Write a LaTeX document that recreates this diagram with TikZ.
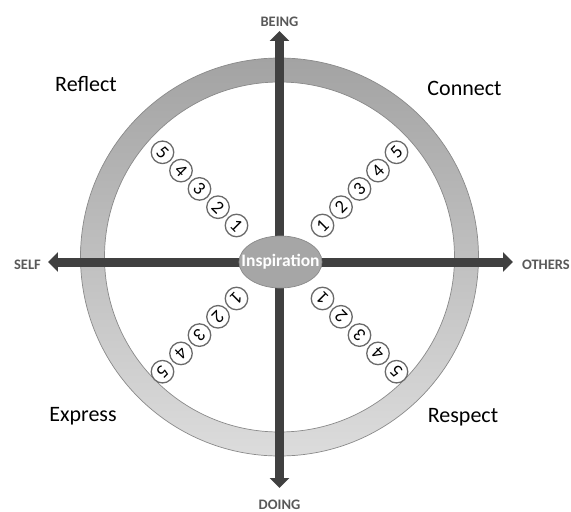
\documentclass[tikz,border=0pt]{standalone}
\usepackage{fontspec}
\setmainfont{Carlito}
\usetikzlibrary{arrows.meta}
\definecolor{axisgray}{HTML}{404040}
\definecolor{labelgray}{HTML}{595959}
\definecolor{numline}{HTML}{6A6A6A}
\definecolor{ringtop}{HTML}{A3A3A3}
\definecolor{ringbot}{HTML}{DCDCDC}
\definecolor{ringline}{HTML}{8A8A8A}
\definecolor{hubfill}{HTML}{A6A6A6}
\tikzset{
  axis/.style={draw=axisgray, line width=9pt, {Triangle[width=19pt,length=10pt]}-{Triangle[width=19pt,length=10pt]}},
  dirlabel/.style={text=labelgray, font=\fontsize{14.5}{15}\selectfont\bfseries},
  quadlabel/.style={anchor=base, font=\fontsize{22}{24}\selectfont},
  num/.style={circle, draw=numline, line width=1.3pt, fill=white, minimum size=22.5pt, inner sep=0pt, font=\fontsize{18.5}{18}\selectfont},
  hub/.style={text=white, inner sep=0pt, font=\fontsize{17.5}{18}\selectfont\bfseries}
}

\begin{document}
\begin{tikzpicture}[x=1pt, y=1pt]
		%%%%% START %%%%%
		\useasboundingbox (-279.5, -250) rectangle (291.5, 262);
		
		\shadedraw[top color=ringtop, bottom color=ringbot, draw=ringline, line width=0.7pt, even odd rule] (0, 5) circle (199pt) (0, 5) circle (175pt);
		
		\coordinate (being) at (0, 231);
		\coordinate (doing) at (0, -226);
		\coordinate (self) at (-231.5, 0);
		\coordinate (others) at (233.5, 0);
		\draw[axis] (doing) -- (being);
		\draw[axis] (self) -- (others);
		
		\draw[fill=hubfill, draw=ringline, line width=0.7pt] (1, 0) ellipse (41.5pt and 26pt);
		\node[hub] (insp) at (1, 0) {Inspiration};
		
		\node[dirlabel] (beinglbl) at (0, 240.5) {BEING};
		\node[dirlabel] (doinglbl) at (0, -243) {DOING};
		\node[dirlabel] (selflbl) at (-252, -3) {SELF};
		\node[dirlabel, anchor=west] (otherslbl) at (239, -3) {OTHERS};
		
		\node[quadlabel] (reflect) at (-193.5, 171) {Reflect};
		\node[quadlabel] (connect) at (185, 167) {Connect};
		\node[quadlabel] (express) at (-196.5, -159) {Express};
		\node[quadlabel] (respect) at (183.5, -160) {Respect};
		
		% upper left
		\node[num, rotate=-45] (rf1) at (-43, 36.5) {1};
		\node[num, rotate=-45] (rf2) at (-61.5, 54.8) {2};
		\node[num, rotate=-45] (rf3) at (-80, 73.1) {3};
		\node[num, rotate=-45] (rf4) at (-98.5, 91.4) {4};
		\node[num, rotate=-45] (rf5) at (-117, 109.7) {5};
		% upper right
		\node[num, rotate=45] (cn1) at (43, 36.5) {1};
		\node[num, rotate=45] (cn2) at (61.5, 54.8) {2};
		\node[num, rotate=45] (cn3) at (80, 73.1) {3};
		\node[num, rotate=45] (cn4) at (98.5, 91.4) {4};
		\node[num, rotate=45] (cn5) at (117, 109.7) {5};
		% lower left
		\node[num, rotate=225] (ex1) at (-43, -36.5) {1};
		\node[num, rotate=225] (ex2) at (-61.5, -54.8) {2};
		\node[num, rotate=225] (ex3) at (-80, -73.1) {3};
		\node[num, rotate=225] (ex4) at (-98.5, -91.4) {4};
		\node[num, rotate=225] (ex5) at (-117, -109.7) {5};
		% lower right
		\node[num, rotate=135] (rs1) at (43, -36.5) {1};
		\node[num, rotate=135] (rs2) at (61.5, -54.8) {2};
		\node[num, rotate=135] (rs3) at (80, -73.1) {3};
		\node[num, rotate=135] (rs4) at (98.5, -91.4) {4};
		\node[num, rotate=135] (rs5) at (117, -109.7) {5};
		%%%%% END %%%%%
	\end{tikzpicture}
\end{document}
